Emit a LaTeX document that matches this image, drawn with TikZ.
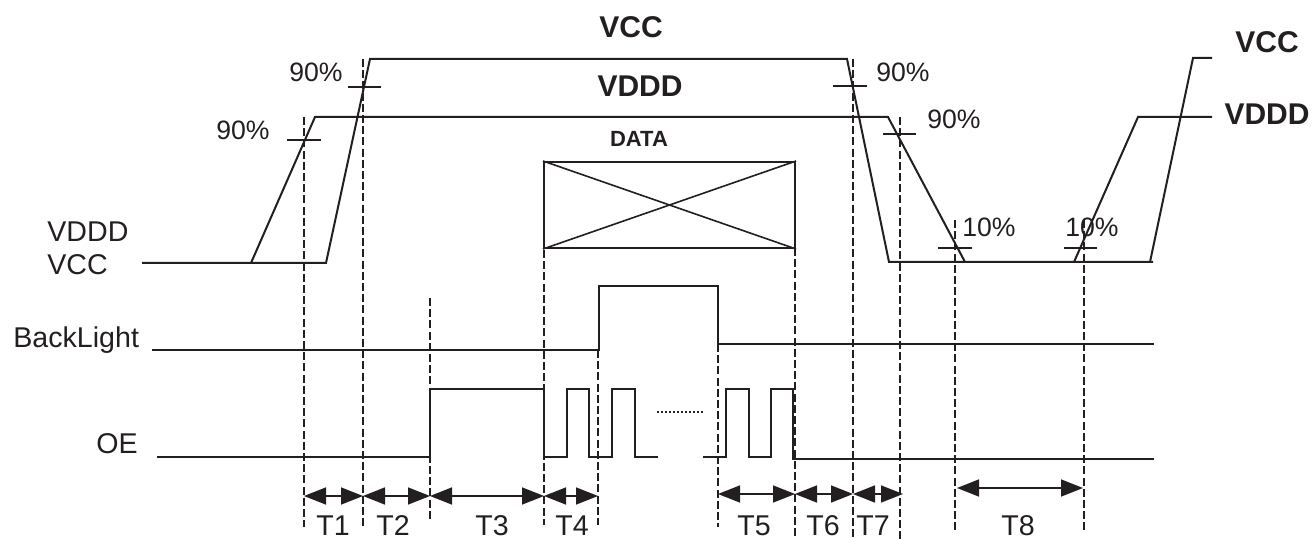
\documentclass[tikz,border=0pt]{standalone}
\usepackage{fontspec}
\setmainfont{Liberation Sans}
\usepackage{tikz}
\usetikzlibrary{arrows.meta}
\definecolor{Ink}{HTML}{231F20}

\begin{document}
\begin{tikzpicture}[x=0.5pt, y=-0.5pt, Ink,
    sig/.style={line width=1pt, line join=miter},
    guide/.style={line width=0.7pt, dash pattern=on 4pt off 1.6pt},
    tickmark/.style={line width=1pt},
    span/.style={line width=0.8pt,
      {Triangle[length=11pt, width=8.5pt]}-{Triangle[length=11pt, width=8.5pt]}},
    lbl/.style={inner sep=0pt, font=\fontsize{14.3}{16}\selectfont},
    pct/.style={inner sep=0pt, font=\fontsize{13.3}{15}\selectfont},
    rail/.style={inner sep=0pt, font=\fontsize{15}{17}\selectfont\bfseries},
    tlbl/.style={inner sep=0pt, font=\fontsize{14.3}{16}\selectfont, anchor=base}]
  \useasboundingbox (0,0) rectangle (1315,539);

  % Signal names
  \node[lbl, anchor=base west] (vdddL) at (47,242) {VDDD};
  \node[lbl, anchor=base west] (vccL) at (47,275) {VCC};
  \node[lbl, anchor=base west] (bl) at (13,347) {BackLight};
  \node[lbl, anchor=base east] (oe) at (138,453) {OE};
  \node[rail, anchor=base] (vccT) at (631,38) {VCC};
  \node[rail, anchor=base] (vdddT) at (640,97) {VDDD};
  \node[rail, anchor=base, font=\fontsize{11}{13}\selectfont\bfseries] (dataT) at (639,147) {DATA};
  \node[rail, anchor=base] (vccR) at (1267,53) {VCC};
  \node[rail, anchor=base] (vdddR) at (1267,125) {VDDD};

  % Level marks
  \node[pct, anchor=base east] (p1) at (270,140) {90\%};
  \node[pct, anchor=base east] (p2) at (343,82) {90\%};
  \node[pct, anchor=base west] (p3) at (876,82) {90\%};
  \node[pct, anchor=base west] (p4) at (927,129) {90\%};
  \node[pct, anchor=base west] (p5) at (962,237) {10\%};
  \node[pct, anchor=base west] (p6) at (1065,237) {10\%};

  % Supplies
  \draw[sig] (142,263) -- (251,263) -- (315,117) -- (888,117) -- (965,262);
  \draw[sig] (251,263) -- (326,263) -- (370,59) -- (847,59) -- (889,262) -- (1153,262);
  \draw[sig] (1074,262) -- (1138,117) -- (1212,117);
  \draw[sig] (1150,262) -- (1193,58) -- (1212,58);
  \foreach \xa/\xb/\yy in {287/321/140, 348/381/87, 833/867/86,
                          883/916/134, 938/972/248, 1064/1097/248}
    \draw[tickmark] (\xa,\yy) -- (\xb,\yy);

  % Data window
  \node[draw, line width=1pt, inner sep=0pt, minimum width=125.5pt,
        minimum height=43pt] (databox) at (669.5,205) {};
  \draw[line width=0.8pt] (databox.north west) -- (databox.south east);
  \draw[line width=0.8pt] (databox.south west) -- (databox.north east);

  % BackLight
  \draw[sig] (152,350) -- (599,350) -- (599,286) -- (718,286) -- (718,344) -- (1154,344);

  % OE
  \draw[sig] (157,457) -- (430,457) -- (430,389) -- (544,389) -- (544,457)
    -- (567,457) -- (567,389) -- (589,389) -- (589,457)
    -- (612,457) -- (612,389) -- (635,389) -- (635,457) -- (658,457);
  \draw[sig] (703,457) -- (726,457) -- (726,389) -- (749,389) -- (749,457)
    -- (771,457) -- (771,389) -- (793,389) -- (793,459) -- (1154,459);
  \draw[line width=0.6pt, dash pattern=on 0.8pt off 1.2pt] (657,412) -- (704,412);

  % Timing guides
  \foreach \xx/\ya/\yb in {304/117/527, 363/59/527, 430/298/520, 544/250/525,
                          598/350/525, 718/344/527, 795/248/539, 853/59/539,
                          900/117/539, 955/220/530, 1084/220/530}
    \draw[guide] (\xx,\ya) -- (\xx,\yb);

  % Intervals
  \coordinate (a1) at (304,496);
  \coordinate (a2) at (363,496);
  \coordinate (a3) at (430,496);
  \coordinate (a4) at (544,496);
  \coordinate (a5) at (598,496);
  \coordinate (b1) at (718,494);
  \coordinate (b2) at (795,494);
  \coordinate (b3) at (853,494);
  \coordinate (b4) at (903,494);
  \coordinate (c1) at (957,488);
  \coordinate (c2) at (1083,488);
  \draw[span] (a1) -- (a2);
  \draw[span] (a2) -- (a3);
  \draw[span] (a3) -- (a4);
  \draw[span] (a4) -- (a5);
  \draw[span] (b1) -- (b2);
  \draw[span] (b2) -- (b3);
  \draw[span] (b3) -- (b4);
  \draw[span] (c1) -- (c2);
  \node[tlbl] (t1) at (333,535) {T1};
  \node[tlbl] (t2) at (393,535) {T2};
  \node[tlbl] (t3) at (492,535) {T3};
  \node[tlbl] (t4) at (572,535) {T4};
  \node[tlbl] (t5) at (754,535) {T5};
  \node[tlbl] (t6) at (823,535) {T6};
  \node[tlbl] (t7) at (873,535) {T7};
  \node[tlbl] (t8) at (1018,535) {T8};
\end{tikzpicture}
\end{document}
